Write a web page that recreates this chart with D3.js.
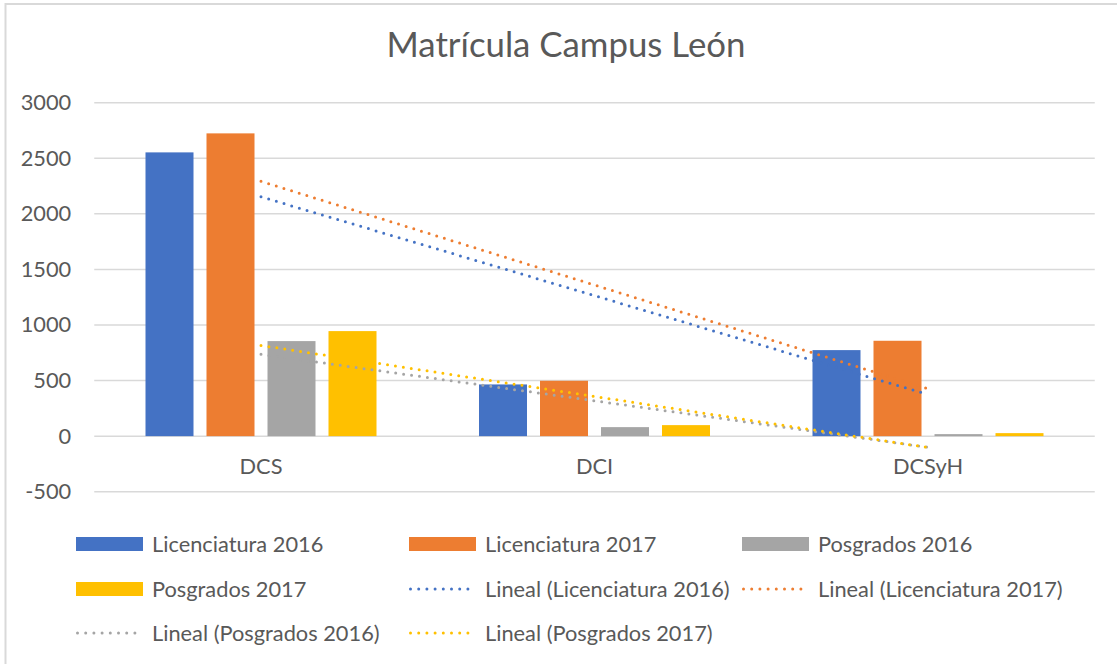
<!DOCTYPE html>
<html>
<head>
<meta charset="utf-8">
<script src="https://cdn.jsdelivr.net/npm/d3@7"></script>
<style>
  html, body { margin: 0; padding: 0; background: #fff; }
  svg { display: block; }
  text { font-family: Lato, "Open Sans", sans-serif; fill: #595959; }
</style>
</head>
<body>
<svg id="chart" width="1117" height="664"></svg>
<script>
// ---- data ----
const categories = ["DCS", "DCI", "DCSyH"];
const seriesNames = ["Licenciatura 2016", "Licenciatura 2017", "Posgrados 2016", "Posgrados 2017"];
const licenciatura2016 = [2553, 465, 774];
const licenciatura2017 = [2724, 498, 858];
const posgrados2016 = [855, 81, 18];
const posgrados2017 = [945, 99, 27];
const yTicks = [-500, 0, 500, 1000, 1500, 2000, 2500, 3000];
const colors = ["#4472C4", "#ED7D31", "#A5A5A5", "#FFC000"];
const titleText = "Matrícula Campus León";

const seriesValues = [licenciatura2016, licenciatura2017, posgrados2016, posgrados2017];

// ---- layout ----
const plot = { left: 94.25, right: 1094.75, top: 102.7, bottom: 491.7 };
const fontSize = "21.8px";

const svg = d3.select("#chart");

// outer border
svg.append("rect")
  .attr("x", 5.5).attr("y", 4).attr("width", 1130).attr("height", 680)
  .attr("fill", "none").attr("stroke", "#d9d9d9").attr("stroke-width", 2);

// title
svg.append("text")
  .attr("x", 566).attr("y", 57)
  .attr("text-anchor", "middle")
  .style("font-size", "34.8px")
  .style("font-weight", 400)
  .text(titleText);

const x = d3.scaleBand().domain(categories).range([plot.left, plot.right]).padding(0);
const y = d3.scaleLinear().domain([-500, 3000]).range([plot.bottom, plot.top]);

// gridlines
svg.append("g").selectAll("line").data(yTicks).join("line")
  .attr("x1", plot.left).attr("x2", plot.right)
  .attr("y1", d => y(d)).attr("y2", d => y(d))
  .attr("stroke", "#d9d9d9").attr("stroke-width", 1.5);

// y axis labels
const yAxis = d3.axisLeft(y).tickValues(yTicks).tickSize(0).tickPadding(0).tickFormat(d => String(d));
const yG = svg.append("g").attr("transform", `translate(${plot.left - 23},0)`).call(yAxis);
yG.select(".domain").remove();
yG.selectAll("text").style("font-size", fontSize).attr("fill", "#595959")
  .style("font-family", "Lato, 'Open Sans', sans-serif");

// category labels
const xAxis = d3.axisBottom(x).tickSize(0).tickPadding(0);
const xG = svg.append("g").attr("transform", `translate(0,${y(0)})`).call(xAxis);
xG.select(".domain").remove();
xG.selectAll("text").attr("dy", null).attr("y", 37.5).style("font-size", fontSize)
  .attr("fill", "#595959").style("font-family", "Lato, 'Open Sans', sans-serif");

// bars
const groupWidth = 231;
const inner = d3.scaleBand().domain(seriesNames).range([0, groupWidth]).paddingInner(13 / 61).paddingOuter(0);
const barsG = svg.append("g");
seriesNames.forEach((name, si) => {
  barsG.append("g").selectAll("rect").data(categories.map((c, ci) => ({ c, v: seriesValues[si][ci] })))
    .join("rect")
    .attr("x", d => x(d.c) + (x.bandwidth() - groupWidth) / 2 + inner(name))
    .attr("width", inner.bandwidth())
    .attr("y", d => y(Math.max(0, d.v)))
    .attr("height", d => Math.abs(y(d.v) - y(0)))
    .attr("fill", colors[si]);
});

// linear trendlines (least squares over category index 1..n)
function linearFit(vals) {
  const xs = vals.map((_, i) => i + 1);
  const mx = d3.mean(xs), my = d3.mean(vals);
  const slope = d3.sum(xs.map((xi, i) => (xi - mx) * (vals[i] - my))) / d3.sum(xs.map(xi => (xi - mx) ** 2));
  const intercept = my - slope * mx;
  return xi => intercept + slope * xi;
}
const trendG = svg.append("g");
seriesNames.forEach((name, si) => {
  const f = linearFit(seriesValues[si]);
  const pts = [[1, f(1)], [categories.length, f(categories.length)]];
  const line = d3.line()
    .x(d => x(categories[d[0] - 1]) + x.bandwidth() / 2)
    .y(d => y(d[1]));
  trendG.append("path")
    .attr("d", line(pts))
    .attr("fill", "none")
    .attr("stroke", colors[si])
    .attr("stroke-width", 3)
    .attr("stroke-linecap", "round")
    .attr("stroke-dasharray", "0 8");
});

// legend
const legendItems = [
  ...seriesNames.map((n, i) => ({ label: n, color: colors[i], type: "bar" })),
  ...seriesNames.map((n, i) => ({ label: "Lineal (" + n + ")", color: colors[i], type: "line" }))
];
const legendCols = [76, 409, 742];
const legendRows = [544, 589, 633];
const swatchW = 67;
const lg = svg.append("g");
legendItems.forEach((it, i) => {
  const cx = legendCols[i % 3], cy = legendRows[Math.floor(i / 3)];
  if (it.type === "bar") {
    lg.append("rect").attr("x", cx).attr("y", cy - 7).attr("width", swatchW).attr("height", 14).attr("fill", it.color);
  } else {
    lg.append("line").attr("x1", cx + 1.5).attr("x2", cx + swatchW).attr("y1", cy).attr("y2", cy)
      .attr("stroke", it.color).attr("stroke-width", 3).attr("stroke-linecap", "round")
      .attr("stroke-dasharray", "0 8.2");
  }
  lg.append("text").attr("x", cx + swatchW + 9).attr("y", cy + 8)
    .style("font-size", fontSize).text(it.label);
});
</script>
</body>
</html>
